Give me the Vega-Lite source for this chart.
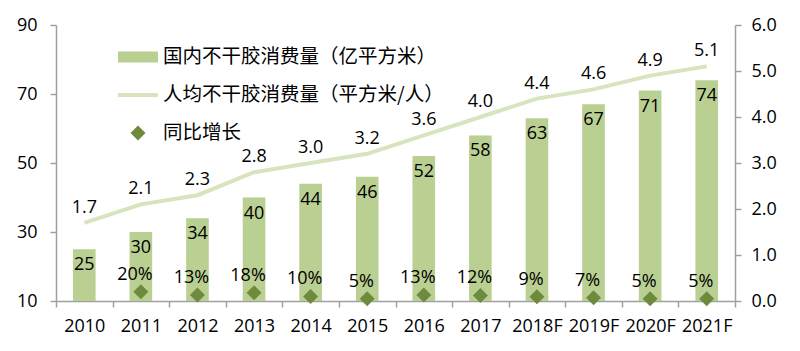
{
  "$schema": "https://vega.github.io/schema/vega-lite/v6.json",
  "width": 679,
  "height": 276,
  "autosize": "none",
  "padding": {"left": 56, "top": 25, "right": 65, "bottom": 50},
  "background": "white",
  "config": {
    "font": "Open Sans",
    "view": {"stroke": null},
    "text": {"font": "Open Sans", "fontSize": 18, "color": "#000000"},
    "axis": {
      "grid": false,
      "domainColor": "#a0a0a0",
      "tickColor": "#a0a0a0",
      "domainWidth": 1.5,
      "tickWidth": 1.5,
      "tickSize": 6,
      "labelColor": "#000000",
      "labelFont": "Open Sans",
      "labelFontSize": 18,
      "title": null
    }
  },
  "data": {
    "values": [
      {"year": "2010", "total": 25, "per": 1.7, "growth": null},
      {"year": "2011", "total": 30, "per": 2.1, "growth": 0.20},
      {"year": "2012", "total": 34, "per": 2.3, "growth": 0.13},
      {"year": "2013", "total": 40, "per": 2.8, "growth": 0.18},
      {"year": "2014", "total": 44, "per": 3.0, "growth": 0.10},
      {"year": "2015", "total": 46, "per": 3.2, "growth": 0.05},
      {"year": "2016", "total": 52, "per": 3.6, "growth": 0.13},
      {"year": "2017", "total": 58, "per": 4.0, "growth": 0.12},
      {"year": "2018F", "total": 63, "per": 4.4, "growth": 0.09},
      {"year": "2019F", "total": 67, "per": 4.6, "growth": 0.07},
      {"year": "2020F", "total": 71, "per": 4.9, "growth": 0.05},
      {"year": "2021F", "total": 74, "per": 5.1, "growth": 0.05}
    ]
  },
  "encoding": {
    "x": {
      "field": "year",
      "type": "ordinal",
      "sort": null,
      "scale": {"paddingInner": 0, "paddingOuter": 0},
      "axis": {"tickBand": "extent", "labelAngle": 0, "labelPadding": 10}
    }
  },
  "layer": [
    {
      "layer": [
        {
          "mark": {"type": "bar", "width": {"band": 0.4}},
          "encoding": {
            "y": {
              "field": "total",
              "type": "quantitative",
              "scale": {"domain": [10, 90], "zero": false, "nice": false},
              "axis": {"values": [10, 30, 50, 70, 90], "labelPadding": 13}
            },
            "y2": {"datum": 10},
            "color": {
              "datum": "国内不干胶消费量（亿平方米）",
              "scale": {
                "domain": ["国内不干胶消费量（亿平方米）", "人均不干胶消费量（平方米/人）", "同比增长"],
                "range": ["#BACF92", "#D7E4BD", "#6E8B3D"]
              },
              "legend": {
                "title": null,
                "orient": "none",
                "legendX": 62,
                "legendY": 12,
                "direction": "vertical",
                "padding": 0,
                "symbolSize": 1600,
                "labelOffset": 5,
                "rowPadding": 8,
                "labelFont": "Noto Sans CJK SC",
                "labelFontSize": 19.5,
                "labelColor": "#000000",
                "labelLimit": 500,
                "encode": {
                  "symbols": {
                    "update": {
                      "shape": {"signal": "datum.value === '同比增长' ? 'M-0.375,0L0,-0.375L0.375,0L0,0.375Z' : (datum.value === '人均不干胶消费量（平方米/人）' ? 'M-1,-0.1H1V0.1H-1Z' : 'M-1,-0.28H1V0.28H-1Z')"},
                      "fill": {"signal": "datum.value === '同比增长' ? '#6E8B3D' : (datum.value === '人均不干胶消费量（平方米/人）' ? '#D7E4BD' : '#BACF92')"},
                      "strokeWidth": {"value": 0},
                      "opacity": {"value": 1}
                    }
                  }
                }
              }
            }
          }
        },
        {
          "mark": {"type": "text", "baseline": "top", "dy": 7},
          "encoding": {
            "y": {"field": "total", "type": "quantitative"},
            "text": {"field": "total", "type": "quantitative"}
          }
        }
      ]
    },
    {
      "layer": [
        {
          "mark": {"type": "line", "strokeWidth": 4},
          "encoding": {
            "y": {
              "field": "per",
              "type": "quantitative",
              "scale": {"domain": [0, 6], "nice": false},
              "axis": {"orient": "right", "values": [0, 1, 2, 3, 4, 5, 6], "format": ".1f", "labelPadding": 10}
            },
            "color": {"datum": "人均不干胶消费量（平方米/人）"}
          }
        },
        {
          "mark": {"type": "text", "dy": -15},
          "encoding": {
            "y": {"field": "per", "type": "quantitative"},
            "text": {"field": "per", "type": "quantitative", "format": ".1f"}
          }
        },
        {
          "transform": [{"filter": "datum.growth != null"}],
          "mark": {"type": "point", "shape": "diamond", "filled": true, "size": 225, "opacity": 1},
          "encoding": {
            "y": {"field": "growth", "type": "quantitative"},
            "color": {"datum": "同比增长"}
          }
        },
        {
          "transform": [{"filter": "datum.growth != null"}],
          "mark": {"type": "text", "dy": -17, "dx": -6},
          "encoding": {
            "y": {"field": "growth", "type": "quantitative"},
            "text": {"field": "growth", "type": "quantitative", "format": ".0%"}
          }
        }
      ]
    }
  ],
  "resolve": {"scale": {"y": "independent", "color": "shared"}}
}
